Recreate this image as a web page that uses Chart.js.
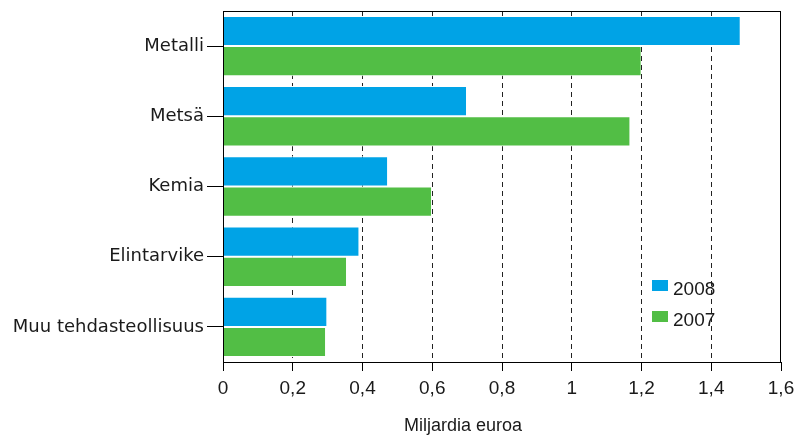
<!DOCTYPE html>
<html lang="fi">
  <head>
    <meta charset="UTF-8" />
    <title>Miljardia euroa</title>
    <script src="https://cdn.jsdelivr.net/npm/chart.js"></script>
    <style>
      body {
        margin: 0;
        background: #fff;
      }
      .container {
        width: 796px;
        height: 436px;
      }
    </style>
  </head>
  <body>
    <div class="container">
      <canvas id="grafiikka" width="796" height="436"></canvas>
    </div>

    <script>
      const toimialat = ["Metalli", "Metsä", "Kemia", "Elintarvike", "Muu tehdasteollisuus"];
      const arvot2008 = [1.482, 0.697, 0.471, 0.389, 0.297];
      const arvot2007 = [1.198, 1.166, 0.597, 0.353, 0.293];
      const vuodet = ["2008", "2007"];
      const akselinOtsikko = "Miljardia euroa";

      const sininen = "#00a3e6";
      const vihrea = "#52be45";
      const teksti = "#1a1a1a";
      const fontti = '"Liberation Sans", Arial, sans-serif';

      Chart.defaults.font.family = fontti;
      Chart.defaults.font.size = 19;
      Chart.defaults.color = teksti;

      // kehys, selite ja akselin otsikko piirretään itse
      const lisat = {
        id: "lisat",
        afterDraw(chart) {
          const { ctx, chartArea: a } = chart;
          ctx.save();
          ctx.strokeStyle = "#000";
          ctx.lineWidth = 1;
          ctx.strokeRect(a.left + 0.5, a.top + 0.5, a.right - a.left - 1, a.bottom - a.top);

          ctx.font = "19px " + fontti;
          ctx.textBaseline = "alphabetic";
          chart.data.datasets.forEach((ds, i) => {
            const y = 280 + i * 31;
            ctx.fillStyle = ds.backgroundColor;
            ctx.fillRect(652, y, 16, 11);
            ctx.fillStyle = teksti;
            ctx.textAlign = "left";
            ctx.fillText(ds.label, 673, y + 15);
          });

          ctx.font = "18px " + fontti;
          ctx.textAlign = "center";
          ctx.fillText(akselinOtsikko, 463, 431);
          ctx.restore();
        },
      };

      const ctx = document.getElementById("grafiikka").getContext("2d");
      new Chart(ctx, {
        type: "bar",
        data: {
          labels: toimialat,
          datasets: [
            {
              label: vuodet[0],
              data: arvot2008,
              backgroundColor: sininen,
              borderColor: "#fff",
              borderWidth: { top: 1, bottom: 1, left: 0, right: 0 },
              borderSkipped: false,
            },
            {
              label: vuodet[1],
              data: arvot2007,
              backgroundColor: vihrea,
              borderColor: "#fff",
              borderWidth: { top: 1, bottom: 1, left: 0, right: 0 },
              borderSkipped: false,
            },
          ],
        },
        options: {
          indexAxis: "y",
          responsive: false,
          animation: false,
          layout: { padding: { top: 11, right: 15, left: 0, bottom: 0 } },
          datasets: {
            bar: { categoryPercentage: 0.86, barPercentage: 1.0 },
          },
          plugins: {
            legend: { display: false },
            tooltip: { enabled: false },
          },
          scales: {
            x: {
              min: 0,
              max: 1.6,
              ticks: {
                stepSize: 0.2,
                padding: 6,
                maxRotation: 0,
                callback: (v) => String(Math.round(v * 10) / 10).replace(".", ","),
              },
              grid: {
                color: (c) =>
                  c.tick && (c.tick.value === 0 || Math.abs(c.tick.value - 1.6) < 1e-6)
                    ? "rgba(0,0,0,0)"
                    : "#222",
                tickColor: "#000",
                tickLength: 9,
                tickBorderDash: [],
                lineWidth: 1,
              },
              border: { display: true, color: "#000", dash: [5, 4] },
              afterFit: (s) => {
                s.height = 74;
                s.paddingLeft = 0;
                s.paddingRight = 0;
              },
            },
            y: {
              ticks: {
                padding: 3,
                font: { family: '"DejaVu Sans", sans-serif', size: 18 },
              },
              grid: {
                offset: false,
                drawOnChartArea: false,
                tickLength: 16,
                tickColor: "#000",
              },
              border: { display: true, color: "#000" },
              afterFit: (s) => {
                s.width = 223;
                s.paddingTop = 0;
                s.paddingBottom = 0;
              },
            },
          },
        },
        plugins: [lisat],
      });
    </script>
  </body>
</html>
